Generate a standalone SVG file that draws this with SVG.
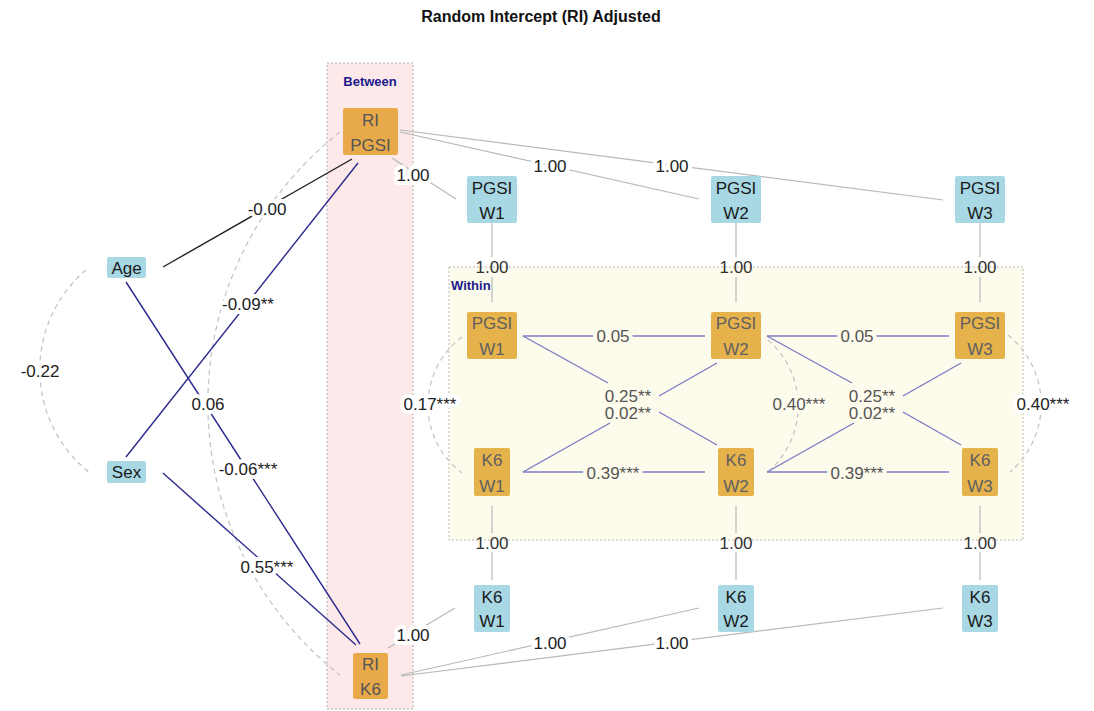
<svg xmlns="http://www.w3.org/2000/svg" width="1094" height="711" viewBox="0 0 1094 711">
<style>
text{font-family:"Liberation Sans",Arial,sans-serif}
.title{font-size:16px;font-weight:bold;fill:#111;text-anchor:middle}
.grp{font-size:13px;font-weight:bold;fill:#1a1a8a}
.nt{font-size:17px;text-anchor:middle}
.ob{fill:#e8a94a}
.oi{fill:#e5b24c}
.bl{fill:#a8d8e4}
.tob{fill:#555}
.toi{fill:#606060}
.tbl{fill:#1a1a1a}
.load{stroke:#b8b8b8;stroke-width:1.2;fill:none}
.reg{stroke:#2a2a8c;stroke-width:1.4;fill:none}
.regw{stroke:#7b7bc6;stroke-width:1.4;fill:none}
.blk{stroke:#222;stroke-width:1.4;fill:none}
.cov{stroke:#c2c2c2;stroke-width:1.2;stroke-dasharray:5 4;fill:none}
.lbl{font-size:17px;text-anchor:middle;fill:#222;paint-order:stroke;stroke:#fff;stroke-width:8px;stroke-linejoin:round}
.lblc{font-size:17px;text-anchor:middle;fill:#555;paint-order:stroke;stroke:#fdfbec;stroke-width:8px;stroke-linejoin:round}
.lbln{font-size:17px;text-anchor:middle;fill:#555}
.lblb{font-size:17px;text-anchor:middle;fill:#333}
</style>
<rect width="1094" height="711" fill="#fff"/>
<text class="title" x="541" y="22">Random Intercept (RI) Adjusted</text>
<g id="between-box">
<rect x="327" y="63" width="86" height="646" fill="#fde8ea" stroke="#b0b0b0" stroke-width="1" stroke-dasharray="2 2"/>
<text class="grp" x="370" y="86" text-anchor="middle">Between</text>
</g>
<g id="within-box">
<rect x="449" y="267" width="574" height="273" fill="#fdfbec" stroke="#b8b8b8" stroke-width="1" stroke-dasharray="2 2"/>
<text class="grp" x="451" y="290">Within</text>
</g>
<g id="connectors">
<!-- loadings -->
<path class="load" d="M392 158 L456 199"/>
<path class="load" d="M400 132 L699 199"/>
<path class="load" d="M400 130 L943 200"/>
<path class="load" d="M492 223 V257 M492 277 V302"/>
<path class="load" d="M736 223 V257 M736 277 V302"/>
<path class="load" d="M980 223 V257 M980 277 V302"/>
<path class="load" d="M492 506 V533 M492 552 V580"/>
<path class="load" d="M736 506 V533 M736 552 V580"/>
<path class="load" d="M980 506 V533 M980 552 V580"/>
<path class="load" d="M388 648 L455 608"/>
<path class="load" d="M401 675 L699 608"/>
<path class="load" d="M401 676 L943 608"/>
<!-- covariances -->
<path class="cov" d="M86 270 A131 131 0 0 0 90 473"/>
<path class="cov" d="M340 132 A345 345 0 0 0 340 675"/>
<path class="cov" d="M462 337 A85 85 0 0 0 462 473"/>
<path class="cov" d="M768 340 A87 87 0 0 1 770 470"/>
<path class="cov" d="M1008 335 A89 89 0 0 1 1010 472"/>
<!-- between regressions -->
<path class="blk" d="M163 267 L352 159"/>
<path class="reg" d="M126 457 L358 163"/>
<path class="reg" d="M126 282 L360 644"/>
<path class="reg" d="M163 473 L356 645"/>
<!-- within regressions -->
<path class="regw" d="M523 336 L705 336"/>
<path class="regw" d="M767 336 L949 336"/>
<path class="regw" d="M523 472 L705 472"/>
<path class="regw" d="M767 472 L949 472"/>
<path class="regw" d="M523 336 L608 383 M659 412 L717 445"/>
<path class="regw" d="M523 472 L610 423 M659 396 L717 363"/>
<path class="regw" d="M767 336 L852 383 M903 412 L961 445"/>
<path class="regw" d="M767 472 L854 423 M903 396 L961 363"/>
<!-- labels -->
<text class="lbl" x="413" y="181">1.00</text>
<text class="lbl" x="550" y="172">1.00</text>
<text class="lbl" x="672" y="172">1.00</text>
<text class="lblb" x="492" y="273">1.00</text>
<text class="lblb" x="736" y="273">1.00</text>
<text class="lblb" x="980" y="273">1.00</text>
<text class="lblb" x="492" y="549">1.00</text>
<text class="lblb" x="736" y="549">1.00</text>
<text class="lblb" x="980" y="549">1.00</text>
<text class="lbl" x="413" y="641">1.00</text>
<text class="lbl" x="550" y="649">1.00</text>
<text class="lbl" x="672" y="649">1.00</text>
<text class="lbl" x="40" y="377">-0.22</text>
<text class="lbl" x="208" y="410">0.06</text>
<text class="lbl" x="267" y="215">-0.00</text>
<text class="lbl" x="248" y="310">-0.09**</text>
<text class="lbl" x="248" y="475">-0.06***</text>
<text class="lbl" x="267" y="573">0.55***</text>
<text class="lbl" x="430" y="410">0.17***</text>
<text class="lblc" x="799" y="410">0.40***</text>
<text class="lbl" x="1043" y="410">0.40***</text>
<text class="lblc" x="613" y="342">0.05</text>
<text class="lblc" x="857" y="342">0.05</text>
<text class="lblc" x="613" y="479">0.39***</text>
<text class="lblc" x="857" y="479">0.39***</text>
<text class="lbln" x="628" y="402">0.25**</text>
<text class="lbln" x="628" y="419">0.02**</text>
<text class="lbln" x="872" y="402">0.25**</text>
<text class="lbln" x="872" y="419">0.02**</text>
</g>
<g id="node-ri-pgsi"><rect class="ob" x="343" y="108" width="55" height="47" rx="2"/><text class="nt tob" x="370.5" y="126">RI</text><text class="nt tob" x="370.5" y="151">PGSI</text></g>
<g id="node-ri-k6"><rect class="ob" x="353" y="653" width="35" height="46" rx="2"/><text class="nt tob" x="370.5" y="670">RI</text><text class="nt tob" x="370.5" y="695">K6</text></g>
<g id="node-age"><rect class="bl" x="107" y="257" width="39" height="21" rx="2"/><text class="nt tbl" x="126.5" y="274">Age</text></g>
<g id="node-sex"><rect class="bl" x="107" y="461" width="39" height="22" rx="2"/><text class="nt tbl" x="126.5" y="478">Sex</text></g>
<g id="node-pgsi-w1-obs"><rect class="bl" x="467" y="176" width="50" height="47" rx="2"/><text class="nt tbl" x="492" y="194">PGSI</text><text class="nt tbl" x="492" y="219">W1</text></g>
<g id="node-pgsi-w2-obs"><rect class="bl" x="711" y="176" width="50" height="47" rx="2"/><text class="nt tbl" x="736" y="194">PGSI</text><text class="nt tbl" x="736" y="219">W2</text></g>
<g id="node-pgsi-w3-obs"><rect class="bl" x="955" y="176" width="50" height="47" rx="2"/><text class="nt tbl" x="980" y="194">PGSI</text><text class="nt tbl" x="980" y="219">W3</text></g>
<g id="node-pgsi-w1"><rect class="oi" x="467" y="312" width="50" height="47" rx="2"/><text class="nt toi" x="492" y="329">PGSI</text><text class="nt toi" x="492" y="355">W1</text></g>
<g id="node-pgsi-w2"><rect class="oi" x="711" y="312" width="50" height="47" rx="2"/><text class="nt toi" x="736" y="329">PGSI</text><text class="nt toi" x="736" y="355">W2</text></g>
<g id="node-pgsi-w3"><rect class="oi" x="955" y="312" width="50" height="47" rx="2"/><text class="nt toi" x="980" y="329">PGSI</text><text class="nt toi" x="980" y="355">W3</text></g>
<g id="node-k6-w1"><rect class="oi" x="474" y="448" width="36" height="48" rx="2"/><text class="nt toi" x="492" y="466">K6</text><text class="nt toi" x="492" y="492">W1</text></g>
<g id="node-k6-w2"><rect class="oi" x="718" y="448" width="36" height="48" rx="2"/><text class="nt toi" x="736" y="466">K6</text><text class="nt toi" x="736" y="492">W2</text></g>
<g id="node-k6-w3"><rect class="oi" x="962" y="448" width="36" height="48" rx="2"/><text class="nt toi" x="980" y="466">K6</text><text class="nt toi" x="980" y="492">W3</text></g>
<g id="node-k6-w1-obs"><rect class="bl" x="474" y="585" width="36" height="47" rx="2"/><text class="nt tbl" x="492" y="603">K6</text><text class="nt tbl" x="492" y="627">W1</text></g>
<g id="node-k6-w2-obs"><rect class="bl" x="718" y="585" width="36" height="47" rx="2"/><text class="nt tbl" x="736" y="603">K6</text><text class="nt tbl" x="736" y="627">W2</text></g>
<g id="node-k6-w3-obs"><rect class="bl" x="962" y="585" width="36" height="47" rx="2"/><text class="nt tbl" x="980" y="603">K6</text><text class="nt tbl" x="980" y="627">W3</text></g>
</svg>
